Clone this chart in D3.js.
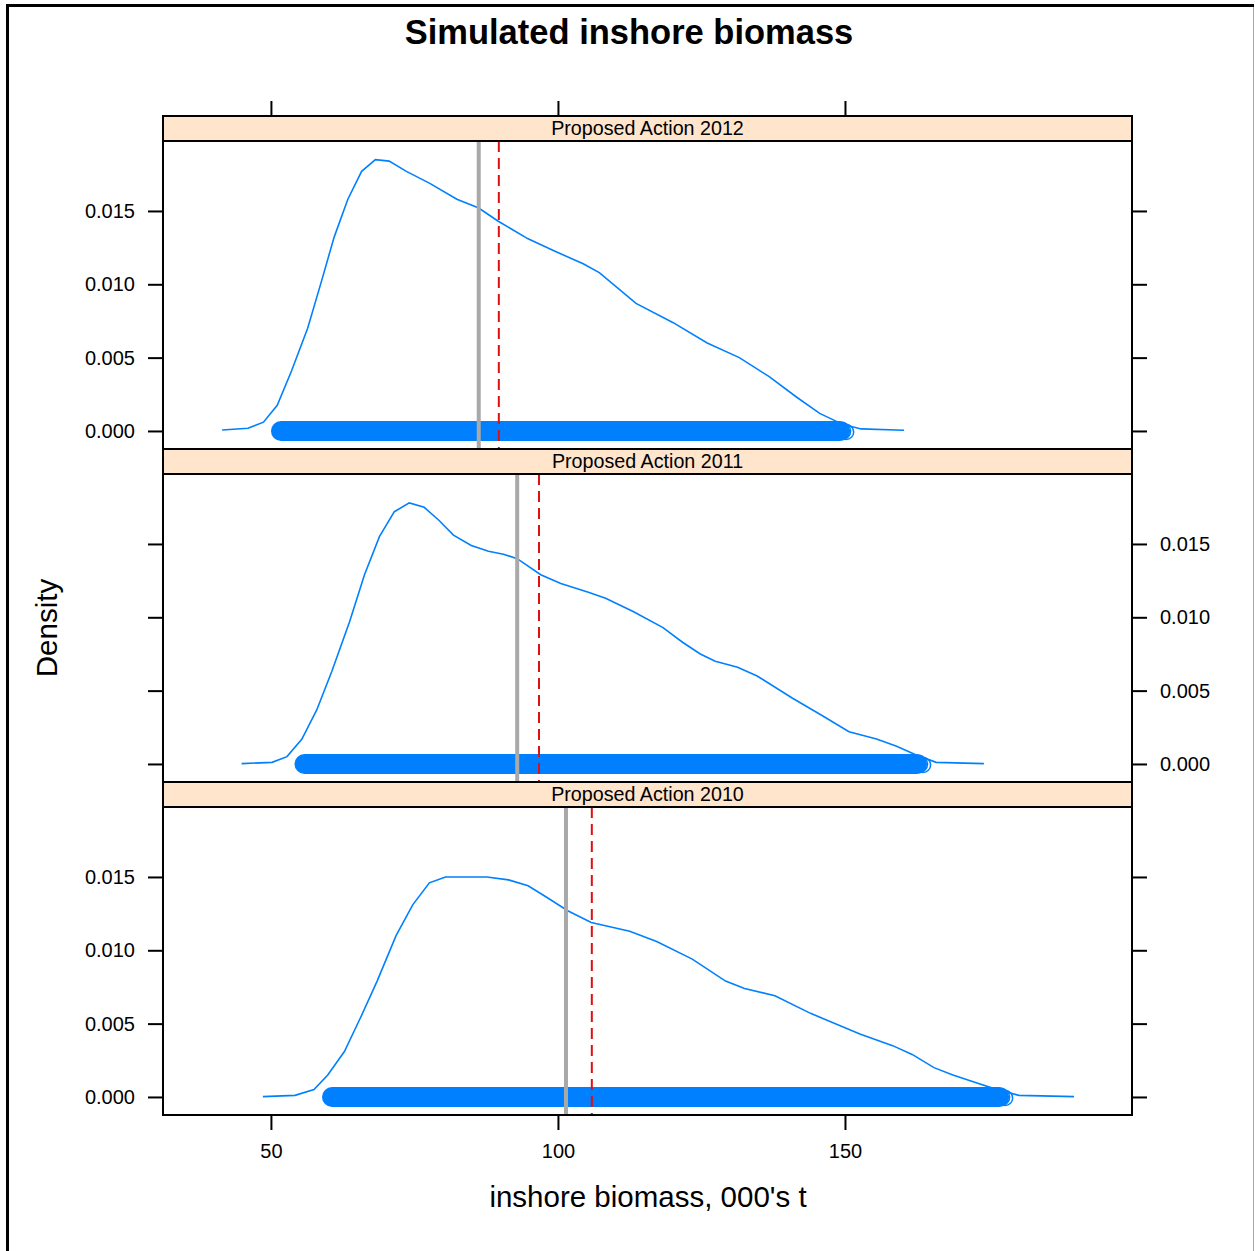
<meta charset="utf-8">
<script src="https://d3js.org/d3.v7.min.js"></script>
<style>
  body { margin: 0; background: #fff; }
  text { font-family: "Liberation Sans", Arial, sans-serif; fill: #000; }
</style>
<svg id="chart" width="1255" height="1251"></svg>
<script>
// panel names, top to bottom
var panels = ["Proposed Action 2012", "Proposed Action 2011", "Proposed Action 2010"];

// density curves (biomass, density)
var biomass2012 = [41.5, 46.0, 48.7, 51.1, 53.6, 56.4, 58.8, 61.0, 63.4, 65.8, 68.2, 70.6, 73.6, 77.6, 82.4, 86.2, 89.6, 94.8, 99.2, 104.4, 107.2, 113.6, 120.0, 126.0, 131.6, 136.8, 141.6, 145.6, 149.6, 152.8, 160.3];
var density2012 = [0.00007, 0.00018, 0.0006, 0.00175, 0.0041, 0.0070, 0.0102, 0.0132, 0.0158, 0.0177, 0.0185, 0.0184, 0.0177, 0.0169, 0.0158, 0.0152, 0.0143, 0.0131, 0.0123, 0.0114, 0.0108, 0.0087, 0.0074, 0.0060, 0.0050, 0.0037, 0.0023, 0.0012, 0.00045, 0.00014, 0.00005];

var biomass2011 = [44.9, 50.2, 52.8, 55.4, 58.0, 60.6, 63.7, 66.3, 68.9, 71.5, 74.1, 76.7, 79.3, 81.8, 84.9, 87.9, 90.5, 92.9, 97.0, 100.5, 105.3, 108.3, 113.1, 118.3, 121.7, 124.8, 127.4, 131.3, 134.7, 140.8, 146.0, 150.7, 155.5, 159.0, 162.5, 165.9, 174.2];
var density2011 = [0.00002, 0.00011, 0.0005, 0.0017, 0.0037, 0.0063, 0.0097, 0.0129, 0.0155, 0.0172, 0.0178, 0.0175, 0.0166, 0.0156, 0.0149, 0.0145, 0.0143, 0.0140, 0.0129, 0.0123, 0.0117, 0.0113, 0.0104, 0.0093, 0.0083, 0.0075, 0.0070, 0.0066, 0.0060, 0.0045, 0.0033, 0.0022, 0.0017, 0.0012, 0.0006, 0.00011, 0.00002];

var biomass2010 = [48.6, 54.2, 57.5, 59.9, 62.8, 65.6, 68.5, 71.8, 74.7, 77.6, 80.4, 83.8, 87.6, 91.4, 94.8, 98.1, 101.7, 105.8, 112.5, 117.2, 123.4, 129.2, 132.5, 137.8, 144.0, 152.6, 158.3, 161.7, 165.5, 168.8, 172.6, 176.5, 180.3, 189.9];
var density2010 = [0.00002, 0.00011, 0.0005, 0.0015, 0.0031, 0.0054, 0.0079, 0.0110, 0.0131, 0.0146, 0.0150, 0.0150, 0.0150, 0.0148, 0.0144, 0.0136, 0.0127, 0.0119, 0.0113, 0.0106, 0.0094, 0.0079, 0.0074, 0.0069, 0.0057, 0.0043, 0.0035, 0.0029, 0.0020, 0.0015, 0.0010, 0.0005, 0.00011, 0.00002];

var biomassList = [biomass2012, biomass2011, biomass2010];
var densityList = [density2012, density2011, density2010];

// reference lines per panel
var greyLine = [86.2, 92.9, 101.4];
var redLine = [89.7, 96.7, 105.9];

// range of the plotted simulation points
var rugMin = [50.0, 54.1, 58.9];
var rugMax = [151.6, 165.0, 179.3];

// tick values
var xTicks = [50, 100, 150];
var yTicks = [0, 0.005, 0.010, 0.015];

var svg = d3.select("#chart");

var left = 163, right = 1132;
var stripTop = 116, stripH = 25, panelH = 308, step = 333;

var x = d3.scaleLinear().domain([31.2, 200]).range([left, right]);

var blue = "#0080ff";
var tickFont = "20px";

// outer frame
svg.append("line").attr("x1", 7.5).attr("y1", 5).attr("x2", 7.5).attr("y2", 1251)
    .attr("stroke", "#000").attr("stroke-width", 3);
svg.append("line").attr("x1", 6).attr("y1", 5.5).attr("x2", 1254).attr("y2", 5.5)
    .attr("stroke", "#000").attr("stroke-width", 3);
svg.append("line").attr("x1", 1253.5).attr("y1", 7).attr("x2", 1253.5).attr("y2", 1251)
    .attr("stroke", "#aaa").attr("stroke-width", 1);

// title
svg.append("text").attr("x", 629).attr("y", 44).attr("text-anchor", "middle")
    .style("font-size", "34.5px").style("font-weight", "bold")
    .text("Simulated inshore biomass");

var line = d3.line();

panels.forEach(function (name, i) {
    var sTop = stripTop + i * step;
    var pTop = sTop + stripH;
    var pBot = pTop + panelH;

    var y = d3.scaleLinear().domain([-0.00123, 0.01977]).range([pBot, pTop]);

    var clipId = "clip" + i;
    svg.append("clipPath").attr("id", clipId)
        .append("rect").attr("x", left).attr("y", pTop).attr("width", right - left).attr("height", panelH);

    var g = svg.append("g").attr("clip-path", "url(#" + clipId + ")");

    // simulated points drawn as a dense band of circles
    var x0 = x(rugMin[i]), x1 = x(rugMax[i]);
    g.append("line")
        .attr("x1", x0 + 10).attr("x2", x1 - 14)
        .attr("y1", y(0)).attr("y2", y(0))
        .attr("stroke", blue).attr("stroke-width", 20).attr("stroke-linecap", "round");
    g.append("circle").attr("cx", x1 - 12).attr("cy", y(0)).attr("r", 8.5)
        .attr("fill", "none").attr("stroke", blue).attr("stroke-width", 1.5);
    g.append("circle").attr("cx", x1 - 8).attr("cy", y(0) + 1).attr("r", 7.5)
        .attr("fill", "none").attr("stroke", blue).attr("stroke-width", 1.5);

    // density curve
    var pts = biomassList[i].map(function (b, k) { return [x(b), y(densityList[i][k])]; });
    g.append("path").attr("d", line(pts))
        .attr("fill", "none").attr("stroke", blue).attr("stroke-width", 1.6);

    // reference lines
    g.append("line").attr("x1", x(greyLine[i])).attr("x2", x(greyLine[i]))
        .attr("y1", pTop).attr("y2", pBot)
        .attr("stroke", "#a9a9a9").attr("stroke-width", 4);
    g.append("line").attr("x1", x(redLine[i])).attr("x2", x(redLine[i]))
        .attr("y1", pTop).attr("y2", pBot)
        .attr("stroke", "#dd1111").attr("stroke-width", 2).attr("stroke-dasharray", "11,6");

    // strip
    svg.append("rect").attr("x", left).attr("y", sTop).attr("width", right - left).attr("height", stripH)
        .attr("fill", "#ffe5cc").attr("stroke", "#000").attr("stroke-width", 2);
    svg.append("text").attr("x", (left + right) / 2).attr("y", sTop + 19)
        .attr("text-anchor", "middle").style("font-size", "19.7px").text(name);

    // panel box
    svg.append("rect").attr("x", left).attr("y", pTop).attr("width", right - left).attr("height", panelH)
        .attr("fill", "none").attr("stroke", "#000").attr("stroke-width", 2);

    // y axes, labels alternate sides
    var fmt = d3.format(".3f");
    var leftAxis = d3.axisLeft(y).tickValues(yTicks).tickSize(15).tickPadding(13)
        .tickFormat(i === 1 ? "" : fmt);
    var rightAxis = d3.axisRight(y).tickValues(yTicks).tickSize(15).tickPadding(13)
        .tickFormat(i === 1 ? fmt : "");
    [svg.append("g").attr("transform", "translate(" + left + ",0)").call(leftAxis),
     svg.append("g").attr("transform", "translate(" + right + ",0)").call(rightAxis)]
        .forEach(function (ax) {
            ax.select(".domain").remove();
            ax.selectAll("line").attr("stroke", "#000").attr("stroke-width", 2);
            ax.selectAll("text").style("font-size", tickFont).style("font-family", "Liberation Sans, Arial, sans-serif").attr("fill", "#000");
        });
});

// x axes: ticks on top, labels at bottom
var bottomY = stripTop + 2 * step + stripH + panelH;
var topAx = svg.append("g").attr("transform", "translate(0," + stripTop + ")")
    .call(d3.axisTop(x).tickValues(xTicks).tickSize(15).tickFormat(""));
var botAx = svg.append("g").attr("transform", "translate(0," + bottomY + ")")
    .call(d3.axisBottom(x).tickValues(xTicks).tickSize(15).tickPadding(14));
[topAx, botAx].forEach(function (ax) {
    ax.select(".domain").remove();
    ax.selectAll("line").attr("stroke", "#000").attr("stroke-width", 2);
    ax.selectAll("text").style("font-size", tickFont).style("font-family", "Liberation Sans, Arial, sans-serif").attr("fill", "#000");
});

// axis titles
svg.append("text").attr("x", 648).attr("y", 1207).attr("text-anchor", "middle")
    .style("font-size", "29.5px").text("inshore biomass, 000's t");
svg.append("text").attr("transform", "translate(57,628) rotate(-90)").attr("text-anchor", "middle")
    .style("font-size", "29.5px").text("Density");
</script>
